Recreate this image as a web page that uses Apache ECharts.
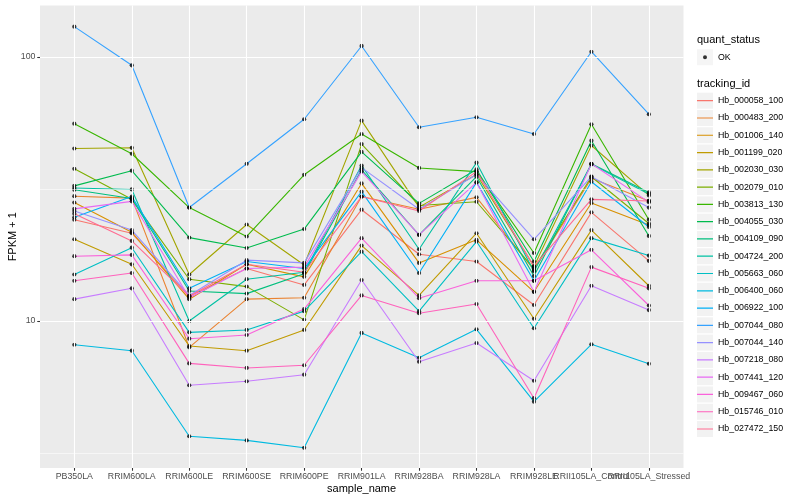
<!DOCTYPE html>
<html><head><meta charset="utf-8">
<script src="https://cdn.jsdelivr.net/npm/echarts@6/dist/echarts.min.js"></script>
<style>html,body{margin:0;padding:0;background:#fff}#c{width:800px;height:500px}</style>
</head><body><div id="c"></div>
<script>
// ---- data ----
const categories = ['PB350LA','RRIM600LA','RRIM600LE','RRIM600SE','RRIM600PE','RRIM901LA','RRIM928BA','RRIM928LA','RRIM928LE','RRII105LA_Control','RRII105LA_Stressed'];
const trackingIds = ['Hb_000058_100','Hb_000483_200','Hb_001006_140','Hb_001199_020','Hb_002030_030','Hb_002079_010','Hb_003813_130','Hb_004055_030','Hb_004109_090','Hb_004724_200','Hb_005663_060','Hb_006400_060','Hb_006922_100','Hb_007044_080','Hb_007044_140','Hb_007218_080','Hb_007441_120','Hb_009467_060','Hb_015746_010','Hb_027472_150'];
const colors = ['#F8766D','#EA8331','#D89000','#C09B00','#A3A500','#7CAE00','#39B600','#00BB4E','#00BF7D','#00C1A3','#00BFC4','#00BAE0','#00B0F6','#35A2FF','#9590FF','#C77CFF','#E76BF3','#FA62DB','#FF62BC','#FF6C91'];

const hb_000058_100 = [24.2, 21.5, 12.4, 15.8, 13.7, 26.4, 17.9, 16.8, 11.5, 25.8, 16.9];
const hb_000483_200 = [29.7, 29.2, 7.95, 12.1, 12.25, 29.6, 26.5, 29.4, 15.6, 34.7, 28.5];
const hb_001006_140 = [28.1, 21.7, 12.1, 16.4, 14.7, 33.2, 16.6, 20.3, 12.9, 28.0, 23.1];
const hb_001199_020 = [20.4, 16.4, 8.04, 7.72, 9.25, 19.3, 12.5, 21.5, 10.2, 22.1, 13.6];
const hb_002030_030 = [45.0, 45.3, 15.0, 23.2, 16.3, 57.4, 27.0, 35.9, 16.1, 46.2, 29.9];
const hb_002079_010 = [37.7, 28.9, 14.4, 13.5, 10.1, 46.8, 27.4, 28.3, 15.8, 35.2, 23.4];
const hb_003813_130 = [55.9, 43.0, 26.9, 20.9, 35.8, 51.1, 38.0, 36.8, 18.1, 55.6, 24.2];
const hb_004055_030 = [32.5, 37.1, 20.7, 18.9, 22.3, 43.7, 27.9, 37.5, 16.8, 48.2, 21.0];
const hb_004109_090 = [31.4, 29.1, 13.0, 12.7, 15.1, 37.4, 21.2, 35.2, 14.8, 39.4, 30.7];
const hb_004724_200 = [31.9, 31.5, 10.0, 14.4, 15.3, 38.8, 18.7, 39.8, 15.4, 39.2, 30.3];
const hb_005663_060 = [15.0, 18.95, 9.06, 9.25, 10.9, 18.3, 10.9, 20.0, 9.39, 20.6, 17.7];
const hb_006400_060 = [8.13, 7.72, 3.66, 3.53, 3.31, 9.01, 7.26, 9.30, 4.95, 8.16, 6.89];
const hb_006922_100 = [24.7, 29.6, 13.3, 16.8, 15.8, 30.9, 15.2, 33.5, 14.2, 33.7, 22.7];
const hb_007044_080 = [130.3, 93.0, 26.9, 39.4, 58.1, 110.1, 54.2, 59.1, 51.1, 104.7, 60.7];
const hb_007044_140 = [26.1, 22.1, 12.5, 17.0, 16.6, 38.1, 26.5, 35.9, 20.4, 35.2, 26.9];
const hb_007218_080 = [12.1, 13.3, 5.71, 5.91, 6.26, 14.3, 7.01, 8.25, 5.94, 13.6, 11.0];
const hb_007441_120 = [26.6, 28.4, 12.25, 15.8, 16.0, 36.8, 21.2, 33.5, 12.9, 39.4, 28.2];
const hb_009467_060 = [17.6, 17.8, 8.57, 8.85, 11.1, 20.6, 12.2, 14.2, 14.2, 18.6, 11.45];
const hb_015746_010 = [14.2, 15.2, 6.91, 6.64, 6.80, 12.5, 10.7, 11.6, 5.10, 16.0, 13.3];
const hb_027472_150 = [25.5, 20.1, 12.4, 16.4, 15.3, 29.6, 26.1, 36.8, 16.1, 28.9, 28.5];

const seriesValues = [hb_000058_100, hb_000483_200, hb_001006_140, hb_001199_020, hb_002030_030, hb_002079_010, hb_003813_130, hb_004055_030, hb_004109_090, hb_004724_200, hb_005663_060, hb_006400_060, hb_006922_100, hb_007044_080, hb_007044_140, hb_007218_080, hb_007441_120, hb_009467_060, hb_015746_010, hb_027472_150];

const yTickValues = [10, 100];
const yMinorValues = [3.1623, 31.623];
const Y_MIN = 2.775, Y_MAX = 156.7;
const FONT = '"Liberation Sans", Arial, Helvetica, sans-serif';

// legend key icons (16x16 boxes)
const ICON_LINE = 'path://M0,0 L0.01,0 Z M0,7.4 L16,7.4 L16,8.6 L0,8.6 Z M16,16 L15.99,16 Z';
const ICON_DOT = 'path://M0,0 L0.01,0 Z M8,6 A2,2 0 1,1 8,10 A2,2 0 1,1 8,6 Z M16,16 L15.99,16 Z';

// ---- chart ----
const chart = echarts.init(document.getElementById('c'), null, {renderer: 'canvas'});

const lineSeries = trackingIds.map((id, i) => ({
  name: id, type: 'line', xAxisIndex: 1, yAxisIndex: 1,
  data: seriesValues[i], color: colors[i], showSymbol: false, symbol: 'none',
  lineStyle: {width: 1.1, color: colors[i]}, z: 3, silent: true
}));

const points = [];
seriesValues.forEach(vals => vals.forEach((v, j) => points.push([categories[j], v])));

const option = {
  animation: false,
  backgroundColor: '#ffffff',
  textStyle: {fontFamily: FONT},
  title: [
    {text: 'quant_status', left: 697, top: 34, padding: 0, textStyle: {fontSize: 11, fontWeight: 'normal', color: '#000', fontFamily: FONT}},
    {text: 'tracking_id', left: 697, top: 78, padding: 0, textStyle: {fontSize: 11, fontWeight: 'normal', color: '#000', fontFamily: FONT}}
  ],
  grid: [
    {left: 40, top: 5.5, width: 643.5, height: 462.5, show: true, backgroundColor: '#EBEBEB', borderWidth: 0, containLabel: false, outerBoundsMode: 'none'},
    {left: 45.6, top: 5.5, width: 632, height: 462.5, show: false, containLabel: false, outerBoundsMode: 'none'}
  ],
  xAxis: [
    {gridIndex: 0, type: 'category', data: categories, show: false},
    {gridIndex: 1, type: 'category', data: categories, boundaryGap: true,
     axisLine: {show: false},
     axisTick: {show: true, alignWithLabel: true, interval: 0, length: 2.75, lineStyle: {color: '#333333', width: 1.07}},
     axisLabel: {interval: 0, color: '#4D4D4D', fontSize: 8.8, margin: 4.5, fontFamily: FONT, hideOverlap: false},
     splitLine: {show: false},
     name: 'sample_name', nameLocation: 'middle', nameGap: 15, nameMoveOverlap: false,
     nameTextStyle: {fontSize: 11, color: '#000', fontFamily: FONT}}
  ],
  yAxis: [
    {gridIndex: 0, type: 'log', logBase: 10, min: Y_MIN, max: Y_MAX,
     axisLine: {show: false},
     axisTick: {show: true, length: 2.75, customValues: yTickValues, lineStyle: {color: '#333333', width: 1.07}},
     axisLabel: {color: '#4D4D4D', fontSize: 8.8, margin: 4.5, fontFamily: FONT, customValues: yTickValues,
       formatter: v => { const l = Math.log10(v); return Math.abs(l - Math.round(l)) < 1e-6 ? String(Math.round(v)) : ''; }},
     splitLine: {show: false}, minorSplitLine: {show: false},
     name: 'FPKM + 1', nameLocation: 'middle', nameGap: 22, nameRotate: 90, nameMoveOverlap: false,
     nameTextStyle: {fontSize: 11, color: '#000', fontFamily: FONT}},
    {gridIndex: 1, type: 'log', logBase: 10, min: Y_MIN, max: Y_MAX, show: false, splitLine: {show: false}}
  ],
  legend: [
    {left: 697, top: 49.2, padding: 0, orient: 'vertical', selectedMode: false, icon: 'rect',
     itemWidth: 16, itemHeight: 16, itemGap: 1.28, data: ['OK'], formatter: () => '',
     itemStyle: {color: '#F2F2F2', borderWidth: 0}},
    {left: 697, top: 49.2, padding: 0, orient: 'vertical', selectedMode: false, icon: ICON_DOT,
     itemWidth: 16, itemHeight: 16, data: ['OK'],
     itemStyle: {color: '#000', borderWidth: 0},
     textStyle: {fontSize: 8.8, color: '#000', fontFamily: FONT}},
    {left: 697, top: 92.7, padding: 0, orient: 'vertical', selectedMode: false, icon: 'rect',
     itemWidth: 16, itemHeight: 16, itemGap: 1.28, data: trackingIds, formatter: () => '',
     itemStyle: {color: '#F2F2F2', borderWidth: 0}},
    {left: 697, top: 92.7, padding: 0, orient: 'vertical', selectedMode: false, icon: ICON_LINE,
     itemWidth: 16, itemHeight: 16, itemGap: 1.28,
     data: trackingIds.map((id, i) => ({name: id, itemStyle: {color: colors[i], borderWidth: 0}})),
     textStyle: {fontSize: 8.8, color: '#000', fontFamily: FONT}}
  ],
  series: [
    {type: 'line', name: '_hgrid', xAxisIndex: 0, yAxisIndex: 0, data: [], z: 1, silent: true,
     markLine: {symbol: 'none', silent: true, animation: false, label: {show: false},
       lineStyle: {color: '#ffffff', type: 'solid'},
       emphasis: {disabled: true},
       data: yMinorValues.map(v => ({yAxis: v, lineStyle: {width: 0.55, color: '#fff', type: 'solid'}}))
         .concat(yTickValues.map(v => ({yAxis: v, lineStyle: {width: 1.1, color: '#fff', type: 'solid'}})))}},
    {type: 'line', name: '_vgrid', xAxisIndex: 1, yAxisIndex: 1, data: [], z: 1, silent: true,
     markLine: {symbol: 'none', silent: true, animation: false, label: {show: false},
       emphasis: {disabled: true},
       lineStyle: {color: '#ffffff', type: 'solid', width: 1.1},
       data: categories.map(c => ({xAxis: c}))}},
    ...lineSeries,
    {type: 'scatter', name: 'OK', xAxisIndex: 1, yAxisIndex: 1, data: points, symbol: 'circle', symbolSize: 4.2,
     itemStyle: {color: '#000'}, z: 4, silent: true}
  ]
};
chart.setOption(option);
</script>
</body></html>
